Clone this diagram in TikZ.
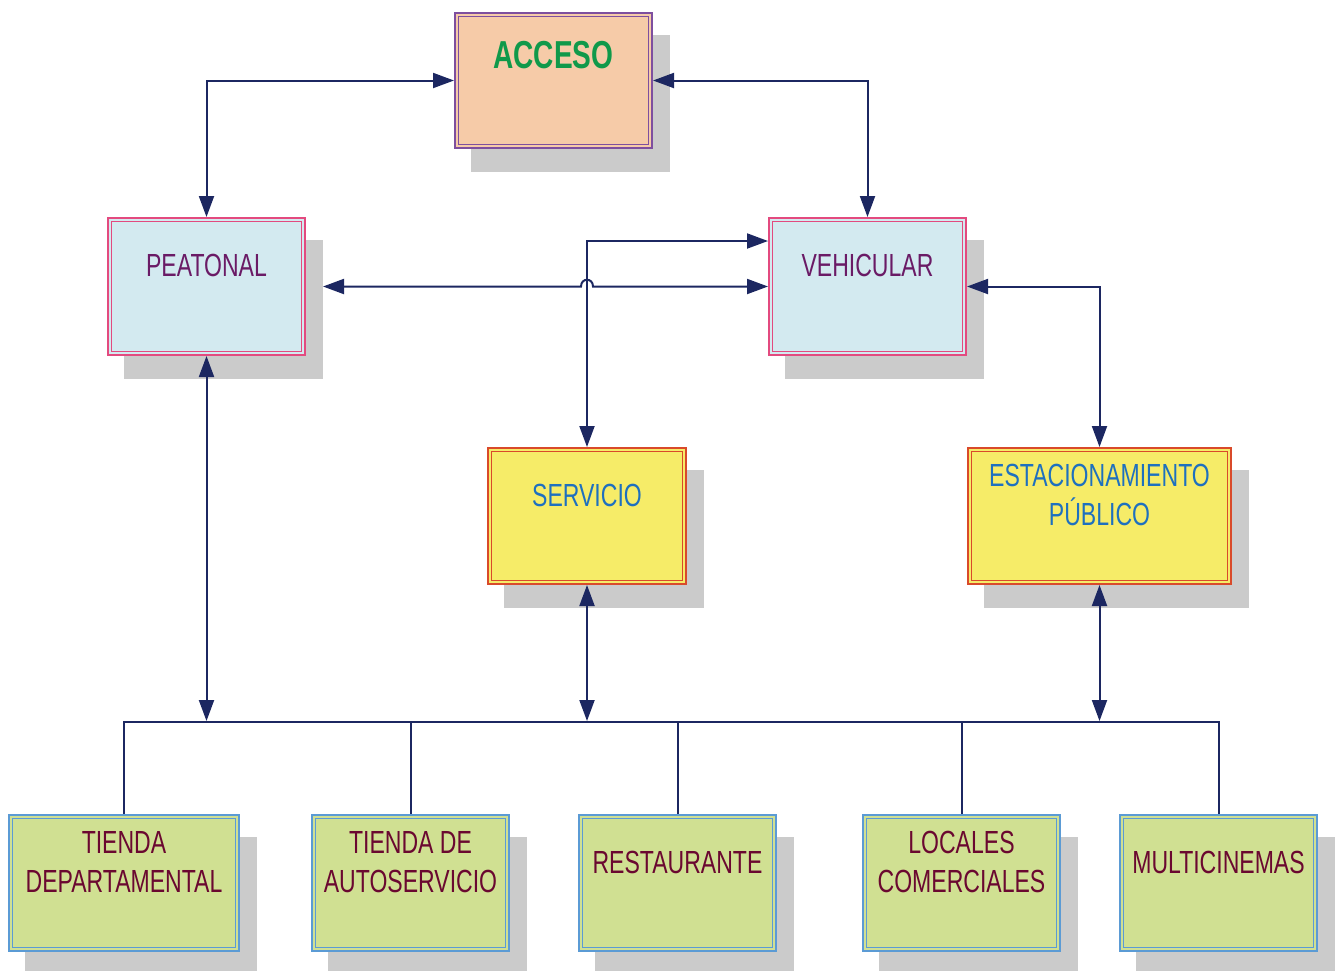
\documentclass[tikz,border=0pt]{standalone}
\usepackage{fontspec}
\newfontfamily\boxfont[FakeStretch=0.72]{Liberation Sans}
\usetikzlibrary{arrows.meta,backgrounds,calc}

\definecolor{navy}{HTML}{1C2761}
\definecolor{shadowgray}{HTML}{CBCBCB}
\definecolor{accfill}{HTML}{F6CBA8}
\definecolor{accline}{HTML}{7E4F9F}
\definecolor{acctext}{HTML}{10994A}
\definecolor{peafill}{HTML}{D3EAF0}
\definecolor{pealine}{HTML}{E34A7F}
\definecolor{peatext}{HTML}{6A1B66}
\definecolor{serfill}{HTML}{F6EC68}
\definecolor{serline}{HTML}{D94A2A}
\definecolor{sertext}{HTML}{1E70BF}
\definecolor{shopfill}{HTML}{D0E092}
\definecolor{shopline}{HTML}{5B9BD5}
\definecolor{shoptext}{HTML}{6A0830}

\begin{document}
\begin{tikzpicture}[x=1pt,y=-1pt,
  framed/.style={rectangle, line width=1.6pt, double distance=2pt,
    outer sep=2.6pt, inner sep=0pt, minimum height=132.8pt},
  accbox/.style={framed, draw=accline, double=accfill, fill=accfill},
  flowbox/.style={framed, draw=pealine, double=peafill, fill=peafill},
  servbox/.style={framed, draw=serline, double=serfill, fill=serfill},
  shopbox/.style={framed, draw=shopline, double=shopfill, fill=shopfill},
  lbl/.style={font=\boxfont\fontsize{32}{38.5}\selectfont, align=center, inner sep=0pt},
  link/.style={draw=navy, line width=2pt},
  biarrow/.style={link, {Triangle[length=21pt,width=15pt]}-{Triangle[length=21pt,width=15pt]}}
]
\useasboundingbox (0,0) rectangle (1335,970);

% --- boxes ---
\node[accbox, minimum width=193.8pt, minimum height=131.8pt] (acc) at (553.5,80.5) {};
\node[flowbox, minimum width=193.8pt, minimum height=133.8pt] (pea) at (206.5,286.5) {};
\node[flowbox, minimum width=193.8pt, minimum height=133.8pt] (veh) at (867.5,286.5) {};
\node[servbox, minimum width=194.8pt] (ser) at (587,516) {};
\node[servbox, minimum width=259.8pt] (est) at (1099.5,516) {};
\node[shopbox, minimum width=226.8pt] (td)  at (124,883) {};
\node[shopbox, minimum width=193.8pt] (ta)  at (410.5,883) {};
\node[shopbox, minimum width=193.8pt] (res) at (677.5,883) {};
\node[shopbox, minimum width=193.8pt] (loc) at (961.5,883) {};
\node[shopbox, minimum width=193.8pt] (mul) at (1218.5,883) {};

% --- drop shadows ---
\begin{scope}[on background layer]
  \foreach \n in {acc,pea,veh,ser,est,td,ta,res,loc,mul}
    \fill[shadowgray] ([shift={(17,23)}]\n.north west) rectangle ([shift={(17,23)}]\n.south east);
\end{scope}

% --- labels ---
\node[lbl, font=\boxfont\bfseries\fontsize{39}{45}\selectfont, text=acctext] (acc-t) at ([yshift=-43pt]acc.north) {ACCESO};
\node[lbl, text=peatext] (pea-t) at ([yshift=-48pt]pea.north) {PEATONAL};
\node[lbl, text=peatext] (veh-t) at ([yshift=-48pt]veh.north) {VEHICULAR};
\node[lbl, text=sertext] (ser-t) at ([yshift=-48pt]ser.north) {SERVICIO};
\node[lbl, text=sertext] (est-t) at ([yshift=-48pt]est.north) {ESTACIONAMIENTO\\PÚBLICO};
\node[lbl, text=shoptext] (td-t)  at ([yshift=-48pt]td.north)  {TIENDA\\DEPARTAMENTAL};
\node[lbl, text=shoptext] (ta-t)  at ([yshift=-48pt]ta.north)  {TIENDA DE\\AUTOSERVICIO};
\node[lbl, text=shoptext] (res-t) at ([yshift=-48pt]res.north) {RESTAURANTE};
\node[lbl, text=shoptext] (loc-t) at ([yshift=-48pt]loc.north) {LOCALES\\COMERCIALES};
\node[lbl, text=shoptext] (mul-t) at ([yshift=-48pt]mul.north) {MULTICINEMAS};

% --- connectors between access, circulation and service areas ---
\draw[biarrow] (pea.north) |- (acc.west);
\draw[biarrow] (veh.north) |- (acc.east);
\draw[biarrow] (ser.north) |- ([yshift=-24pt]veh.north west);
\draw[biarrow] (est.north) |- (veh.east);
\coordinate (j1) at ([xshift=-6pt]ser.north |- pea.east);
\coordinate (j2) at ([xshift=6pt]ser.north |- pea.east);
\draw[biarrow] ([xshift=17pt]pea.east) -- (j1)
  .. controls ([yshift=9pt]j1) and ([yshift=9pt]j2) .. (j2) -- (veh.west);

% --- distribution bus to the commercial areas ---
\coordinate (bus) at (0,722);
\draw[link] (td.north) |- (mul.north |- bus) -- (mul.north);
\foreach \n in {ta,res,loc}
  \draw[link] (\n.north) -- (\n.north |- bus);
\foreach \n in {pea,ser,est}
  \draw[biarrow] (\n.south) -- ([yshift=1pt]\n.south |- bus);
\end{tikzpicture}
\end{document}
